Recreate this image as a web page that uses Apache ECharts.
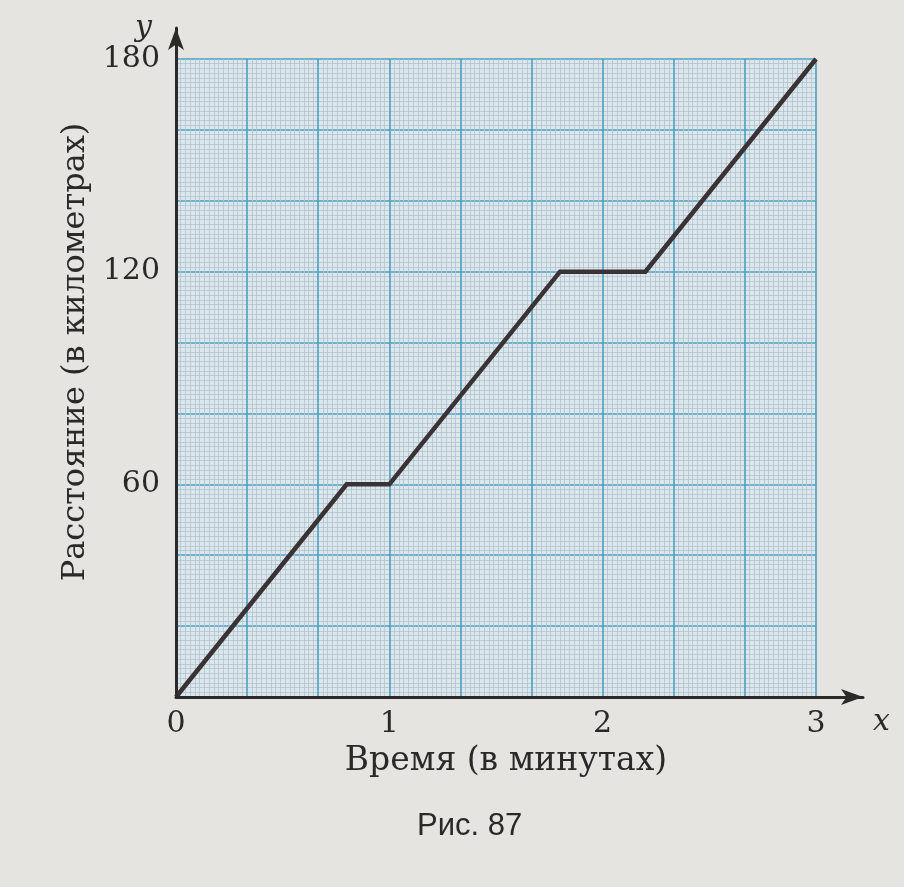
<!DOCTYPE html>
<html>
<head>
<meta charset="utf-8">
<script src="https://cdn.jsdelivr.net/npm/echarts@6/dist/echarts.min.js"></script>
<style>
html,body{margin:0;padding:0;background:#e6e4e1;}
#chart{width:904px;height:887px;}
</style>
</head>
<body>
<div id="chart"></div>
<script>
// Data (time in minutes, distance in km)
const timeMinutes = [0, 0.8, 1.0, 1.8, 2.2, 3.0];
const distanceKm  = [0, 60, 60, 120, 120, 180];
const xTickLabels = [0, 1, 2, 3];
const yTickLabels = [60, 120, 180];
const xTitle = 'Время (в минутах)';
const yTitle = 'Расстояние (в километрах)';
const caption = 'Рис. 87';

const seriesData = timeMinutes.map((t, i) => [t, distanceKm[i]]);

const serif = '"DejaVu Serif", "Liberation Serif", serif';
const textColor = '#2b2829';
const majorColor = '#4c9fbf';
const minorColor = '#b3c3cb';

const chart = echarts.init(document.getElementById('chart'));
chart.setOption({
  backgroundColor: '#e6e4e1',
  animation: false,
  title: {
    text: caption,
    left: 412, top: 806,
    textStyle: { fontFamily: '"Liberation Sans", Arial, sans-serif', fontSize: 31, fontWeight: 'normal', color: textColor }
  },
  grid: [
    { left: 176, top: 59, width: 640, height: 638, show: true, backgroundColor: '#dbe7ed', borderWidth: 0 },
    { left: 176, top: 28, right: 41, bottom: 190, show: false }
  ],
  xAxis: [
    { // minutes axis (labels)
      gridIndex: 0, type: 'value', min: 0, max: 3, interval: 1,
      axisLine: { show: false }, axisTick: { show: false }, splitLine: { show: false },
      axisLabel: {
        margin: 12, fontFamily: serif, fontSize: 30, color: textColor,
        formatter: v => xTickLabels.indexOf(v) >= 0 ? String(v) : ''
      },
      name: xTitle, nameLocation: 'middle', nameGap: 48,
      nameTextStyle: { fontFamily: serif, fontSize: 33, color: textColor, padding: [0, 0, 0, 20] }
    },
    { // grid lines: major every 1/3 minute
      gridIndex: 0, type: 'value', min: 0, max: 9, interval: 1, position: 'top',
      axisLine: { show: false }, axisTick: { show: false }, axisLabel: { show: false },
      splitLine: { show: true, lineStyle: { color: majorColor, width: 1.6 } },
      minorTick: { show: false, splitNumber: 15 },
      minorSplitLine: { show: true, lineStyle: { color: minorColor, width: 0.8 } }
    },
    { // axis line with arrow
      gridIndex: 1, type: 'value', min: 0, max: 1, z: 10,
      axisLine: { show: true, symbol: ['none', 'arrow'], symbolSize: [12, 22], lineStyle: { color: '#2a2a2a', width: 3 } },
      axisTick: { show: false }, axisLabel: { show: false }, splitLine: { show: false },
      name: 'x', nameLocation: 'end', nameGap: 10,
      nameTextStyle: { fontFamily: serif, fontStyle: 'italic', fontSize: 30, color: textColor, verticalAlign: 'top', padding: [10, 0, 0, 0] }
    }
  ],
  yAxis: [
    {
      gridIndex: 0, type: 'value', min: 0, max: 180, interval: 20,
      axisLine: { show: false }, axisTick: { show: false },
      axisLabel: {
        margin: 16, fontFamily: serif, fontSize: 30, color: textColor,
        formatter: v => yTickLabels.indexOf(v) >= 0 ? String(v) : ''
      },
      splitLine: { show: true, lineStyle: { color: majorColor, width: 1.6 } },
      minorTick: { show: false, splitNumber: 15 },
      minorSplitLine: { show: true, lineStyle: { color: minorColor, width: 0.8 } },
      name: yTitle, nameLocation: 'middle', nameGap: 82, nameRotate: 90,
      nameTextStyle: { fontFamily: serif, fontSize: 32, color: textColor, padding: [0, 0, 0, 52] }
    },
    {
      gridIndex: 1, type: 'value', min: 0, max: 1, z: 10,
      axisLine: { show: true, symbol: ['none', 'arrow'], symbolSize: [12, 22], lineStyle: { color: '#2a2a2a', width: 3 } },
      axisTick: { show: false }, axisLabel: { show: false }, splitLine: { show: false },
      name: 'y', nameLocation: 'end', nameGap: 0,
      nameTextStyle: { fontFamily: serif, fontStyle: 'italic', fontSize: 30, color: textColor, align: 'right', verticalAlign: 'middle', padding: [0, 24, 0, 0] }
    }
  ],
  series: [{
    type: 'line',
    xAxisIndex: 0, yAxisIndex: 0,
    data: seriesData,
    symbol: 'none',
    z: 5,
    lineStyle: { color: '#3a3234', width: 4.5, join: 'miter' }
  }]
});
</script>
</body>
</html>
